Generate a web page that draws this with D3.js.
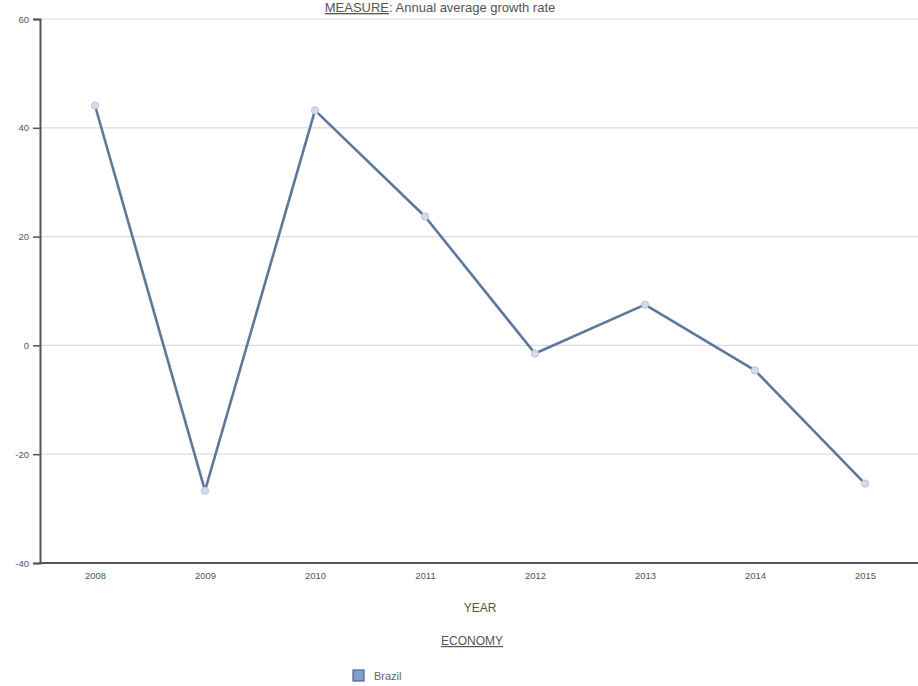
<!DOCTYPE html>
<html><head><meta charset="utf-8">
<script src="https://cdn.jsdelivr.net/npm/d3@7"></script>
<style>body{margin:0;background:#fff;}svg{display:block;font-family:"Liberation Sans",Arial,sans-serif;}</style>
</head><body>
<svg id="c" width="918" height="686"></svg>
<script>
const years = ["2008","2009","2010","2011","2012","2013","2014","2015"];
const brazil = [44.1, -26.7, 43.2, 23.7, -1.5, 7.5, -4.6, -25.4];
const yTicks = [-40, -20, 0, 20, 40, 60];
const seriesName = "Brazil";

(function(){
const svg = d3.select("#c");
const mL = 40, mR = 920, mT = 19, mB = 563;
const x = d3.scalePoint().domain(years).range([mL, mR]).padding(0.5);
const y = d3.scaleLinear().domain([-40, 60]).range([mB, mT]);

// gridlines
svg.append("g").selectAll("line").data(yTicks.filter(d => d > -40)).join("line")
  .attr("x1", mL).attr("x2", 918).attr("y1", d => y(d)).attr("y2", d => y(d))
  .attr("stroke", "#dcdcdc").attr("stroke-width", 1.2);

// y axis
const ya = svg.append("g").attr("transform", `translate(${mL},0)`)
  .call(d3.axisLeft(y).tickValues(yTicks).tickFormat(d => String(d)).tickSize(7).tickPadding(4));
ya.select(".domain").attr("stroke", "#555").attr("stroke-width", 2);
ya.selectAll(".tick line").attr("stroke", "#555").attr("stroke-width", 1.5);
ya.selectAll(".tick text").attr("fill", "#555").attr("font-size", 9.5);

// x axis
const xa = svg.append("g").attr("transform", `translate(0,${mB})`)
  .call(d3.axisBottom(x).tickSize(0).tickPadding(9));
xa.select(".domain").attr("d", `M${mL},0H918`).attr("stroke", "#555").attr("stroke-width", 2);
xa.selectAll(".tick text").attr("fill", "#555").attr("font-size", 9.5);

// line
const data = years.map((d, i) => ({year: d, v: brazil[i]}));
svg.append("path").datum(data)
  .attr("d", d3.line().x(d => x(d.year)).y(d => y(d.v)))
  .attr("fill", "none").attr("stroke", "#5b789f").attr("stroke-width", 2.6)
  .attr("stroke-linejoin", "round");
svg.append("g").selectAll("circle").data(data).join("circle")
  .attr("cx", d => x(d.year)).attr("cy", d => y(d.v)).attr("r", 3.6)
  .attr("fill", "#d3dceb").attr("stroke", "#b8c6da").attr("stroke-width", 1);

// title
const t = svg.append("text").attr("x", 440).attr("y", 12).attr("text-anchor", "middle")
  .attr("font-size", 13).attr("fill", "#555");
t.append("tspan").attr("text-decoration", "underline").text("MEASURE");
t.append("tspan").text(": Annual average growth rate");

// axis titles
svg.append("text").attr("x", 480).attr("y", 612).attr("text-anchor", "middle")
  .attr("font-size", 12).attr("fill", "#555").text("YEAR");
svg.append("text").attr("x", 472).attr("y", 645).attr("text-anchor", "middle")
  .attr("font-size", 12).attr("fill", "#555").attr("text-decoration", "underline").text("ECONOMY");

// legend
svg.append("rect").attr("x", 353).attr("y", 670).attr("width", 11).attr("height", 11)
  .attr("fill", "#7f9fd0").attr("stroke", "#4a6590").attr("stroke-width", 1.2);
svg.append("text").attr("x", 374).attr("y", 680).attr("font-size", 11).attr("fill", "#666").text(seriesName);
})();
</script>
</body></html>
